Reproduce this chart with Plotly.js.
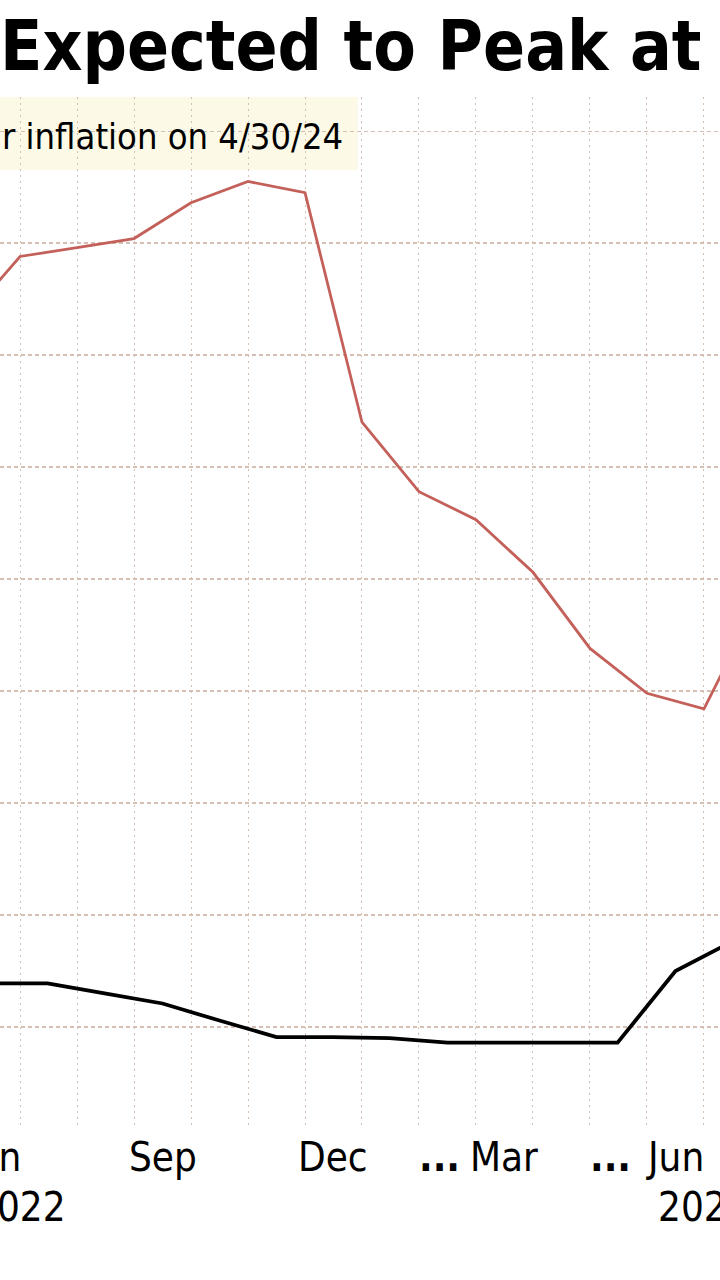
<!DOCTYPE html>
<html>
<head>
<meta charset="utf-8">
<script src="https://cdn.plot.ly/plotly-3.0.1.min.js"></script>
<style>
  html, body { margin: 0; padding: 0; background: #fff; }
  #myDiv { width: 720px; height: 1280px; }
</style>
</head>
<body>
<div id="myDiv"></div>
<script>
  // values (grid step = 1 unit)
  var redDates = ['2022-06-01', '2022-07-01', '2022-08-01', '2022-09-01', '2022-10-01',
                  '2022-11-01', '2022-12-01', '2023-01-01', '2023-02-01', '2023-03-01',
                  '2023-04-01', '2023-05-01', '2023-06-01', '2023-07-01', '2023-08-01']
  var redValues = [7.29, 7.88, 7.96, 8.04, 8.36, 8.55, 8.45, 6.40, 5.78, 5.53,
                   5.06, 4.38, 3.98, 3.84, 4.85]

  var blackDates = ['2022-06-16', '2022-07-16', '2022-08-16', '2022-09-16', '2022-10-16',
                    '2022-11-16', '2022-12-16', '2023-01-16', '2023-02-15', '2023-03-16',
                    '2023-04-16', '2023-05-16', '2023-06-16', '2023-07-16']
  var blackValues = [1.39, 1.39, 1.30, 1.21, 1.06, 0.91, 0.91, 0.90, 0.86, 0.86,
                     0.86, 0.86, 1.50, 1.76]

  var tickDates = ['2022-06-16', '2022-09-16', '2022-12-16', '2023-03-16', '2023-06-16']
  var tickLabels = ['Jun', 'Sep', 'Dec', 'Mar', 'Jun']
  var dotsDates = ['2023-03-16', '2023-06-16']
  var yearDates = ['2022-07-01', '2023-07-01']
  var yearLabels = ['2022', '2023']

  var xRange = [-0.351, 12.281]

  // months are drawn evenly spaced, so dates become a month index (Jul 2022 = 0)
  function monthIndex(s) {
    var p = s.split('-').map(Number)
    var days = new Date(p[0], p[1], 0).getDate()
    return (p[0] - 2022) * 12 + (p[1] - 7) + (p[2] - 1) / days
  }
  function toPaper(v) {
    return (v - xRange[0]) / (xRange[1] - xRange[0])
  }

  var font = 'DejaVu Sans Condensed, DejaVu Sans, sans-serif'
  var gridColor = '#d3bfb3'

  var data = [{
    x: redDates.map(monthIndex),
    y: redValues,
    type: 'scatter',
    mode: 'lines',
    line: {color: '#c4605a', width: 2.8},
    hoverinfo: 'skip'
  }, {
    x: blackDates.map(monthIndex),
    y: blackValues,
    type: 'scatter',
    mode: 'lines',
    line: {color: '#000000', width: 3.8},
    hoverinfo: 'skip'
  }]

  var annotations = []
  // month labels, drawn as annotations so the one cut by the left edge still shows
  for (let i = 0; i < tickDates.length; i++) {
    annotations.push({
      x: toPaper(monthIndex(tickDates[i])), xref: 'paper', xanchor: 'center',
      y: 0, yref: 'paper', yanchor: 'top', yshift: -6,
      text: tickLabels[i], showarrow: false,
      font: {family: font, size: 40, color: '#000'}
    })
  }
  for (let i = 0; i < yearDates.length; i++) {
    annotations.push({
      x: toPaper(monthIndex(yearDates[i])), xref: 'paper', xanchor: 'center',
      y: 0, yref: 'paper', yanchor: 'top', yshift: -56,
      text: yearLabels[i], showarrow: false,
      font: {family: font, size: 40, color: '#000'}
    })
  }
  for (let i = 0; i < dotsDates.length; i++) {
    annotations.push({
      x: toPaper(monthIndex(dotsDates[i])), xref: 'paper', xanchor: 'right', xshift: -42,
      y: 0, yref: 'paper', yanchor: 'top', yshift: -6,
      text: '...', showarrow: false,
      font: {family: font, size: 40, color: '#000', weight: 'bold'}
    })
  }
  annotations.push({
    x: 0, xref: 'paper', xanchor: 'left',
    y: 0.962, yref: 'paper', yanchor: 'middle',
    text: 'r inflation on 4/30/24', showarrow: false,
    font: {family: font, size: 36, color: '#000'}
  })

  var layout = {
    width: 720,
    height: 1280,
    margin: {t: 97, b: 154, l: 0, r: 0, pad: 0},
    paper_bgcolor: '#ffffff',
    plot_bgcolor: '#ffffff',
    showlegend: false,
    title: {
      text: 'Expected to Peak at',
      x: 0, xref: 'paper', xanchor: 'left',
      y: 0.964, yref: 'container', yanchor: 'middle',
      font: {family: font, size: 69, color: '#000', weight: 'bold'}
    },
    xaxis: {
      range: xRange,
      tickmode: 'linear',
      tick0: 0,
      dtick: 1,
      showticklabels: false,
      ticks: '',
      showgrid: true,
      gridcolor: gridColor,
      gridwidth: 1,
      griddash: '2px,4px',
      zeroline: false,
      showline: false
    },
    yaxis: {
      range: [0.116, 9.304],
      tick0: 0,
      dtick: 1,
      showticklabels: false,
      zeroline: false,
      showline: false,
      gridcolor: gridColor,
      gridwidth: 1.1,
      griddash: '4px,3px'
    },
    shapes: [{
      type: 'rect', xref: 'paper', yref: 'paper', layer: 'below',
      x0: 0, x1: 0.497, y0: 0.929, y1: 1,
      fillcolor: '#fcf9e6', line: {width: 0}
    }],
    annotations: annotations
  }

  Plotly.newPlot('myDiv', data, layout, {staticPlot: true})
</script>
</body>
</html>
